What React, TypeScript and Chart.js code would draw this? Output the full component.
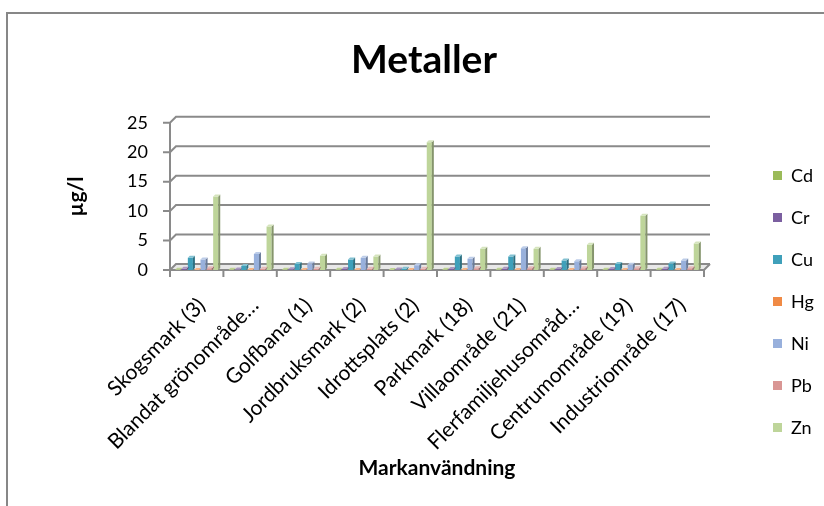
import React, { useEffect, useRef } from "react";
import { Chart, registerables } from "chart.js";
Chart.register(...registerables);

const categories = [
  "Skogsmark (3)",
  "Blandat grönområde…",
  "Golfbana (1)",
  "Jordbruksmark (2)",
  "Idrottsplats (2)",
  "Parkmark (18)",
  "Villaområde (21)",
  "Flerfamiljehusområd…",
  "Centrumområde (19)",
  "Industriområde (17)",
];
const seriesNames = ["Cd", "Cr", "Cu", "Hg", "Ni", "Pb", "Zn"];
const cd = [0.05, 0.03, 0.03, 0.03, 0.02, 0.03, 0.03, 0.03, 0.03, 0.04];
const cr = [0.2, 0.1, 0.12, 0.15, 0.1, 0.15, 0.2, 0.15, 0.15, 0.2];
const cu = [2.1, 0.7, 1.0, 1.8, 0.2, 2.3, 2.3, 1.6, 1.0, 1.1];
const hg = [0.02, 0.01, 0.01, 0.01, 0.01, 0.02, 0.02, 0.02, 0.02, 0.02];
const ni = [1.8, 2.7, 1.1, 2.1, 0.8, 1.9, 3.7, 1.5, 0.9, 1.6];
const pb = [0.3, 0.2, 0.2, 0.2, 0.2, 0.3, 0.3, 0.3, 0.3, 0.3];
const zn = [12.5, 7.4, 2.4, 2.3, 21.7, 3.6, 3.6, 4.3, 9.2, 4.5];
const yTicks = [0, 5, 10, 15, 20, 25];
const colors = ["#9BBB59", "#7B5FA0", "#3FA0BA", "#F08A45", "#98B0DC", "#D99694", "#BED59A"];

const seriesValues = [cd, cr, cu, hg, ni, pb, zn];

function shade(hex: string, f: number) {
  const n = parseInt(hex.slice(1), 16);
  let r = (n >> 16) & 255, g = (n >> 8) & 255, b = n & 255;
  if (f < 0) { r = r * (1 + f); g = g * (1 + f); b = b * (1 + f); }
  else { r = r + (255 - r) * f; g = g + (255 - g) * f; b = b + (255 - b) * f; }
  return `rgb(${Math.round(r)},${Math.round(g)},${Math.round(b)})`;
}

const FONT = "Lato, 'Open Sans', sans-serif";
const DX = 6, DY = 6; // 3D wall depth
const BX = 2, BY = 2; // bar depth

const framePlugin = {
  id: "frame",
  beforeDraw(chart: any) {
    const ctx = chart.ctx;
    ctx.save();
    ctx.fillStyle = "#fff";
    ctx.fillRect(0, 0, chart.width, chart.height);
    ctx.strokeStyle = "#878787";
    ctx.lineWidth = 2;
    ctx.beginPath();
    ctx.moveTo(7, chart.height);
    ctx.lineTo(7, 13);
    ctx.lineTo(chart.width, 13);
    ctx.stroke();
    ctx.restore();
  },
  beforeDatasetsDraw(chart: any) {
    const ctx = chart.ctx;
    const { left, right, bottom } = chart.chartArea;
    const ys = chart.scales.y;
    ctx.save();
    // floor
    ctx.fillStyle = "#e8e8e8";
    ctx.beginPath();
    ctx.moveTo(left, bottom);
    ctx.lineTo(left + DX, bottom - DY);
    ctx.lineTo(right + DX, bottom - DY);
    ctx.lineTo(right, bottom);
    ctx.closePath();
    ctx.fill();
    ctx.strokeStyle = "#8a8a8a";
    ctx.lineWidth = 2;
    for (const v of yTicks) {
      const y = ys.getPixelForValue(v);
      ctx.beginPath();
      ctx.moveTo(left - 7, y);
      ctx.lineTo(left, y);
      ctx.lineTo(left + DX, y - DY);
      ctx.lineTo(right + DX, y - DY);
      ctx.stroke();
    }
    // left axis
    ctx.beginPath();
    ctx.moveTo(left, ys.getPixelForValue(yTicks[yTicks.length - 1]));
    ctx.lineTo(left, bottom + 7);
    ctx.stroke();
    // floor front + right edge
    ctx.beginPath();
    ctx.moveTo(left, bottom);
    ctx.lineTo(right, bottom);
    ctx.lineTo(right + DX, bottom - DY);
    ctx.stroke();
    // category ticks
    const n = categories.length;
    const w = (right - left) / n;
    for (let i = 0; i <= n; i++) {
      const x = left + i * w;
      ctx.beginPath();
      ctx.moveTo(x, bottom);
      ctx.lineTo(x, bottom + 7);
      ctx.stroke();
    }
    ctx.restore();
  },
  afterDatasetsDraw(chart: any) {
    const ctx = chart.ctx;
    ctx.save();
    chart.data.datasets.forEach((ds: any, di: number) => {
      const meta = chart.getDatasetMeta(di);
      meta.data.forEach((bar: any) => {
        const { x, y, base, width } = bar.getProps(["x", "y", "base", "width"], true);
        const l = x - width / 2, r = x + width / 2;
        ctx.fillStyle = shade(colors[di], -0.3);
        ctx.beginPath();
        ctx.moveTo(r, y);
        ctx.lineTo(r + BX, y - BY);
        ctx.lineTo(r + BX, base - BY);
        ctx.lineTo(r, base);
        ctx.closePath();
        ctx.fill();
        ctx.fillStyle = shade(colors[di], 0.35);
        ctx.beginPath();
        ctx.moveTo(l, y);
        ctx.lineTo(l + BX, y - BY);
        ctx.lineTo(r + BX, y - BY);
        ctx.lineTo(r, y);
        ctx.closePath();
        ctx.fill();
      });
    });
    // legend
    ctx.font = `18px ${FONT}`;
    ctx.textBaseline = "middle";
    ctx.textAlign = "left";
    seriesNames.forEach((name, i) => {
      const cy = 175 + i * 42;
      ctx.fillStyle = colors[i];
      ctx.fillRect(773, cy - 4, 9, 9);
      ctx.fillStyle = "#000";
      ctx.fillText(name, 791, cy + 1);
    });
    ctx.restore();
  },
};

export default function App() {
  const ref = useRef<HTMLCanvasElement | null>(null);
  useEffect(() => {
    if (!ref.current) return;
    const chart = new Chart(ref.current, {
      type: "bar",
      data: {
        labels: categories,
        datasets: seriesNames.map((name, i) => ({
          label: name,
          data: seriesValues[i],
          backgroundColor: colors[i],
          borderWidth: 0,
          categoryPercentage: 0.83,
          barPercentage: 0.8,
        })),
      },
      options: {
        responsive: false,
        animation: false,
        devicePixelRatio: 1,
        layout: { padding: { left: 24, right: 0, top: 0, bottom: 0 } },
        plugins: {
          legend: { display: false },
          tooltip: { enabled: false },
          title: {
            display: true,
            text: "Metaller",
            color: "#000",
            font: { family: FONT, size: 39, weight: "bold" },
            padding: { top: 37, bottom: 39 },
          },
        },
        scales: {
          x: {
            grid: { display: false, drawTicks: false },
            border: { display: false },
            ticks: {
              autoSkip: false,
              minRotation: 45,
              maxRotation: 45,
              padding: 23,
              labelOffset: 5,
              color: "#000",
              font: { family: FONT, size: 21 },
            },
            title: {
              display: true,
              text: "Markanvändning",
              color: "#000",
              font: { family: FONT, size: 21, weight: "bold" },
              padding: { top: 0, bottom: 25 },
            },
            afterFit: (s: any) => { s.height = 236; },
          },
          y: {
            min: 0,
            max: 25,
            grid: { display: false, drawTicks: false },
            border: { display: false },
            ticks: {
              stepSize: 5,
              padding: 22,
              color: "#000",
              font: { family: FONT, size: 18 },
            },
            title: {
              display: true,
              text: "µg/l",
              color: "#000",
              font: { family: FONT, size: 21, weight: "bold" },
              padding: { top: 40, bottom: 0 },
            },
            afterFit: (s: any) => { s.width = 146; },
          },
          y2: {
            position: "right",
            min: 0,
            max: 25,
            grid: { display: false, drawTicks: false },
            border: { display: false },
            ticks: { display: false },
            afterFit: (s: any) => { s.width = 120; },
          },
        },
      },
      plugins: [framePlugin],
    } as any);
    return () => chart.destroy();
  }, []);
  return (
    <div style={{ position: "absolute", left: 0, top: 0, width: 824, height: 506, overflow: "hidden", background: "#fff" }}>
      <canvas ref={ref} width={824} height={506} style={{ display: "block" }} />
    </div>
  );
}
